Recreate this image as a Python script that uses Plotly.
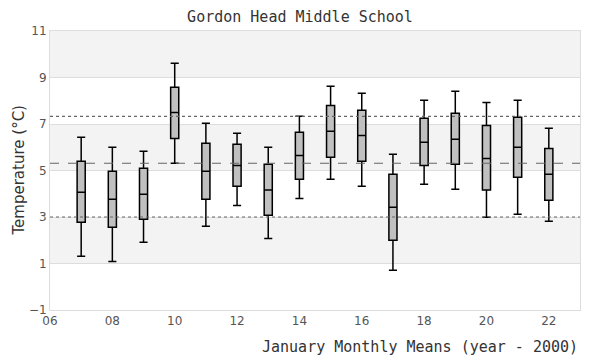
import plotly.graph_objects as go

years = [7, 8, 9, 10, 11, 12, 13, 14, 15, 16, 17, 18, 19, 20, 21, 22]
upper = [6.43, 6.00, 5.83, 9.61, 7.03, 6.60, 6.00, 7.33, 8.62, 8.32, 5.70, 8.02, 8.41, 7.93, 8.02, 6.82]
q3 = [5.40, 4.97, 5.10, 8.58, 6.17, 6.13, 5.27, 6.64, 7.80, 7.59, 4.84, 7.25, 7.46, 6.94, 7.29, 5.95]
median = [4.06, 3.76, 3.98, 7.50, 4.97, 5.22, 4.16, 5.65, 6.69, 6.51, 3.42, 6.21, 6.34, 5.52, 6.00, 4.84]
q1 = [2.77, 2.56, 2.90, 6.38, 3.76, 4.32, 3.07, 4.62, 5.57, 5.40, 2.00, 5.22, 5.27, 4.16, 4.71, 3.72]
lower = [1.31, 1.09, 1.91, 5.31, 2.60, 3.50, 2.08, 3.80, 4.62, 4.32, 0.71, 4.41, 4.19, 2.99, 3.12, 2.82]

ref_mean = 5.31
ref_high = 7.33
ref_low = 3.00

x_ticks = [6, 8, 10, 12, 14, 16, 18, 20, 22]
x_labels = ["06", "08", "10", "12", "14", "16", "18", "20", "22"]
y_ticks = [-1, 1, 3, 5, 7, 9, 11]
bands = [(1, 3), (5, 7), (9, 11)]

# The page body has an 8px margin, so the figure is offset inside the window.
W, H = 592, 352
OFF = 8

fig = go.Figure()
fig.add_trace(go.Box(
    x=years, q1=q1, median=median, q3=q3,
    lowerfence=lower, upperfence=upper,
    fillcolor="#c0c0c0",
    line=dict(color="black", width=1.5),
    whiskerwidth=1,
    width=0.26,
    boxpoints=False,
    showlegend=False,
    hoverinfo="skip",
))

shapes = []
for lo, hi in bands:
    shapes.append(dict(type="rect", xref="paper", yref="y", x0=0, x1=1, y0=lo, y1=hi,
                       fillcolor="#f3f3f3", line=dict(width=0), layer="below"))
for val, dash in [(ref_high, "dot"), (ref_mean, "dash"), (ref_low, "dot")]:
    shapes.append(dict(type="line", xref="paper", yref="y", x0=0, x1=1, y0=val, y1=val,
                       line=dict(color="#666666", width=1.1, dash=dash), layer="above"))
fig.update_layout(shapes=shapes)

mono = "DejaVu Sans Mono, Liberation Mono, monospace"
sans = "DejaVu Sans, Verdana, sans-serif"

plot_left, plot_right, plot_top, plot_bottom = 50 - OFF, 580 - OFF, 31 - OFF, 310 - OFF
plot_w = plot_right - plot_left
plot_h = plot_bottom - plot_top

fig.update_layout(
    width=W, height=H,
    margin=dict(l=plot_left, r=W - plot_right, t=plot_top, b=H - plot_bottom, autoexpand=False),
    paper_bgcolor="white",
    plot_bgcolor="white",
    title=dict(text="Gordon Head Middle School", x=(300 - OFF) / W, xanchor="center",
               y=1 - (17 - OFF) / H, yanchor="middle", yref="container",
               font=dict(family=mono, size=15, color="#333333")),
    xaxis=dict(range=[6, 23], tickvals=x_ticks, ticktext=x_labels,
               showgrid=False, zeroline=False, showline=True, linecolor="#dddddd",
               mirror=True, ticks="", tickfont=dict(family=sans, size=12, color="#555555")),
    yaxis=dict(range=[-1, 11], tickvals=y_ticks, showgrid=True, gridcolor="#dddddd",
               gridwidth=1, zeroline=False, showline=True, linecolor="#dddddd",
               mirror=True, ticks="", ticklen=0,
               tickfont=dict(family=sans, size=12, color="#555555")),
    annotations=[
        dict(text="January Monthly Means (year - 2000)", xref="paper", yref="paper",
             x=1, y=-37 / plot_h, xanchor="right", yanchor="middle", showarrow=False,
             font=dict(family=mono, size=15, color="#333333")),
        dict(text="Temperature (°C)", xref="paper", yref="paper",
             x=-32 / plot_w, y=0.5, xanchor="center", yanchor="middle", textangle=-90,
             showarrow=False, font=dict(family=sans, size=15, color="#333333")),
    ],
)

fig.write_html("out.html")
